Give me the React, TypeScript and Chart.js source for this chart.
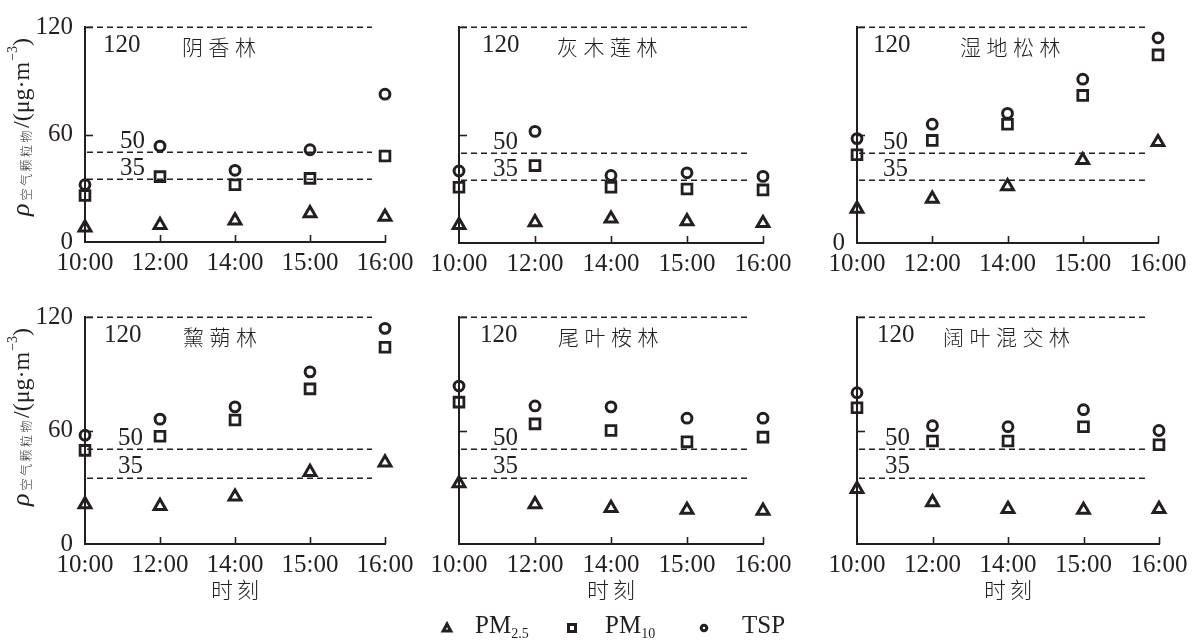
import React, { useEffect, useRef } from 'react';
import { Chart, registerables } from 'chart.js';

Chart.register(...registerables);

// ---------- data ----------
const times = ['10:00', '12:00', '14:00', '15:00', '16:00'];
const forestNames = ['阴香林', '灰木莲林', '湿地松林', '黧蒴林', '尾叶桉林', '阔叶混交林'];
const seriesNames = ['PM2.5', 'PM10', 'TSP'];
const yTickValues = [0, 60, 120];
const refLines = [120, 50, 35];
const xTitle = '时刻';

// 阴香林
const pm25_yinxiang = [8, 9.5, 12, 16, 14];
const pm10_yinxiang = [26, 36.5, 32, 35.5, 48];
const tsp_yinxiang = [32, 53.5, 40, 51.5, 82.5];
// 灰木莲林
const pm25_huimulian = [10, 11.5, 13.5, 12, 11];
const pm10_huimulian = [31, 43, 31, 30, 29.5];
const tsp_huimulian = [40, 62, 37.5, 39, 37];
// 湿地松林
const pm25_shidisong = [19, 24.5, 31.5, 46, 56];
const pm10_shidisong = [49, 57, 66, 82, 104.5];
const tsp_shidisong = [58, 66, 72, 91, 114];
// 黧蒴林
const pm25_lishuo = [21, 20, 25, 38, 43];
const pm10_lishuo = [49.5, 57, 65.5, 82, 104];
const tsp_lishuo = [57.5, 66, 72.5, 91, 114];
// 尾叶桉林
const pm25_weiyean = [32, 21, 19, 18, 17.5];
const pm10_weiyean = [75, 63.5, 60, 54, 56.5];
const tsp_weiyean = [83.5, 73, 72.5, 66.5, 66.5];
// 阔叶混交林
const pm25_kuoye = [29, 22, 18.5, 18, 18.5];
const pm10_kuoye = [72, 54.5, 54.5, 62, 52.5];
const tsp_kuoye = [80, 62.5, 62, 71, 60];

const panelSeries = [
  [pm25_yinxiang, pm10_yinxiang, tsp_yinxiang],
  [pm25_huimulian, pm10_huimulian, tsp_huimulian],
  [pm25_shidisong, pm10_shidisong, tsp_shidisong],
  [pm25_lishuo, pm10_lishuo, tsp_lishuo],
  [pm25_weiyean, pm10_weiyean, tsp_weiyean],
  [pm25_kuoye, pm10_kuoye, tsp_kuoye],
];

// ---------- layout / style ----------
const INK = '#231f20';
const SERIF = '"Liberation Serif", "Times New Roman", serif';
const CJK = '"Noto Sans CJK SC", "Noto Sans CJK JP", sans-serif';

type Layout = {
  left: number; top: number; w: number; h: number;
  pad: { left: number; right: number; top: number; bottom: number };
  yLabels: number[]; yTitle: boolean; xTitle: boolean; legend: boolean;
  off120: number; offTitle: number; offRef: number;
};

const layouts: Layout[] = [
  { left: 0, top: 0, w: 420, h: 290, pad: { left: 85, right: 35, top: 18, bottom: 48 }, yLabels: [0, 60, 120], yTitle: true, xTitle: false, legend: false, off120: 18, offTitle: 97, offRef: 35 },
  { left: 420, top: 0, w: 380, h: 290, pad: { left: 39, right: 37, top: 18, bottom: 47 }, yLabels: [], yTitle: false, xTitle: false, legend: false, off120: 23, offTitle: 98, offRef: 34 },
  { left: 800, top: 0, w: 400, h: 290, pad: { left: 57, right: 42, top: 18, bottom: 47 }, yLabels: [0], yTitle: false, xTitle: false, legend: false, off120: 16, offTitle: 103, offRef: 26 },
  { left: 0, top: 290, w: 420, h: 351, pad: { left: 85, right: 35, top: 27, bottom: 97 }, yLabels: [0, 60, 120], yTitle: true, xTitle: true, legend: false, off120: 19, offTitle: 98, offRef: 33 },
  { left: 420, top: 290, w: 380, h: 351, pad: { left: 39, right: 37, top: 27, bottom: 97 }, yLabels: [], yTitle: false, xTitle: true, legend: true, off120: 21, offTitle: 99, offRef: 34 },
  { left: 800, top: 290, w: 400, h: 351, pad: { left: 57, right: 41, top: 27, bottom: 97 }, yLabels: [], yTitle: false, xTitle: true, legend: false, off120: 20, offTitle: 86, offRef: 28 },
];

const pointStyles = ['triangle', 'rect', 'circle'] as const;
const pointRadii = [6.8, 6.9, 4.9];
const pointBorders = [3, 2.8, 3];

function drawSpaced(ctx: CanvasRenderingContext2D, text: string, x: number, y: number, advance: number) {
  let cx = x;
  for (const ch of Array.from(text)) {
    ctx.fillText(ch, cx, y);
    cx += advance;
  }
}

function drawYTitle(ctx: CanvasRenderingContext2D, x: number, yBottom: number) {
  ctx.save();
  ctx.translate(x, yBottom);
  ctx.rotate(-Math.PI / 2);
  ctx.fillStyle = INK;
  ctx.textAlign = 'left';
  ctx.textBaseline = 'alphabetic';
  let cx = 0;
  ctx.font = `italic 26px ${SERIF}`;
  ctx.fillText('ρ', cx, 0);
  cx += ctx.measureText('ρ').width + 3;
  ctx.font = `300 12px ${CJK}`;
  for (const ch of Array.from('空气颗粒物')) {
    ctx.fillText(ch, cx, 2);
    cx += 14.5;
  }
  ctx.font = `24px ${SERIF}`;
  ctx.fillText('/(μg·m', cx, 0);
  cx += ctx.measureText('/(μg·m').width + 1;
  ctx.font = `14px ${SERIF}`;
  ctx.fillText('−3', cx, -12);
  cx += ctx.measureText('−3').width;
  ctx.font = `24px ${SERIF}`;
  ctx.fillText(')', cx, 0);
  ctx.restore();
}

function drawLegend(ctx: CanvasRenderingContext2D, layout: Layout) {
  const oy = 628 - layout.top;
  const ox = -layout.left;
  ctx.save();
  ctx.strokeStyle = INK;
  ctx.fillStyle = INK;
  ctx.lineWidth = 3;
  // triangle
  const tx = 447 + ox;
  ctx.beginPath();
  ctx.moveTo(tx, oy - 4);
  ctx.lineTo(tx + 3.8, oy + 3);
  ctx.lineTo(tx - 3.8, oy + 3);
  ctx.closePath();
  ctx.stroke();
  // square
  const sx = 572 + ox;
  ctx.strokeRect(sx - 3.5, oy - 3.5, 7, 7);
  // circle
  const cx = 704 + ox;
  ctx.beginPath();
  ctx.arc(cx, oy, 2.8, 0, Math.PI * 2);
  ctx.stroke();

  const base = 643 - layout.top;
  ctx.textAlign = 'left';
  ctx.textBaseline = 'alphabetic';
  const items: [number, string, string][] = [
    [475, 'PM', '2.5'],
    [605, 'PM', '10'],
    [742, 'TSP', ''],
  ];
  items.forEach(([x, main, sub]) => {
    ctx.font = `25px ${SERIF}`;
    ctx.fillText(main, x + ox, base - 10);
    const w = ctx.measureText(main).width;
    if (sub) {
      ctx.font = `14px ${SERIF}`;
      ctx.fillText(sub, x + ox + w, base - 5);
    }
  });
  ctx.restore();
}

function makePlugin(idx: number) {
  const L = layouts[idx];
  return {
    id: 'decor' + idx,
    beforeDatasetsDraw(chart: any) {
      const { ctx, chartArea: ca } = chart;
      const y = chart.scales.y;
      ctx.save();
      ctx.strokeStyle = INK;
      ctx.lineWidth = 1.5;
      ctx.setLineDash([6, 4]);
      refLines.forEach((v) => {
        const py = Math.round(y.getPixelForValue(v)) + 0.25;
        ctx.beginPath();
        ctx.moveTo(ca.left + 2, py);
        ctx.lineTo(ca.right - 13, py);
        ctx.stroke();
      });
      ctx.restore();
    },
    afterDraw(chart: any) {
      const { ctx, chartArea: ca } = chart;
      const x = chart.scales.x;
      const y = chart.scales.y;
      ctx.save();
      ctx.strokeStyle = INK;
      ctx.fillStyle = INK;
      ctx.lineWidth = 1.6;
      // inward x ticks
      for (let i = 1; i < times.length; i++) {
        const px = Math.round(x.getPixelForValue(i)) + 0.5;
        ctx.beginPath();
        ctx.moveTo(px, ca.bottom - 7);
        ctx.lineTo(px, ca.bottom);
        ctx.stroke();
      }
      // inward y ticks
      [60, 120].forEach((v) => {
        const py = Math.round(y.getPixelForValue(v)) + 0.5;
        ctx.beginPath();
        ctx.moveTo(ca.left, py);
        ctx.lineTo(ca.left + 8, py);
        ctx.stroke();
      });
      // reference labels
      ctx.textAlign = 'left';
      ctx.textBaseline = 'middle';
      ctx.font = `25px ${SERIF}`;
      const p120 = y.getPixelForValue(120);
      ctx.fillText('120', ca.left + L.off120, p120 + 18);
      ctx.fillText('50', ca.left + L.offRef, y.getPixelForValue(50) - 11);
      ctx.fillText('35', ca.left + L.offRef, y.getPixelForValue(35) - 11);
      // panel title
      ctx.font = `300 21px ${CJK}`;
      drawSpaced(ctx, forestNames[idx], ca.left + L.offTitle, p120 + 20, 26.5);
      // x title
      if (L.xTitle) {
        ctx.textAlign = 'center';
        const cxm = (ca.left + ca.right) / 2;
        ctx.font = `300 22px ${CJK}`;
        ctx.fillText(xTitle[0], cxm - 13, 590 - L.top);
        ctx.fillText(xTitle[1], cxm + 13, 590 - L.top);
      }
      ctx.restore();
      if (L.yTitle) drawYTitle(ctx, 29, 216);
      if (L.legend) drawLegend(ctx, L);
    },
  };
}

function buildConfig(idx: number): any {
  const L = layouts[idx];
  const series = panelSeries[idx];
  return {
    type: 'line',
    data: {
      labels: times,
      datasets: series.map((d, i) => ({
        label: seriesNames[i],
        data: d,
        showLine: false,
        pointStyle: pointStyles[i],
        pointRadius: pointRadii[i],
        pointHoverRadius: pointRadii[i],
        pointBorderWidth: pointBorders[i],
        pointBorderColor: INK,
        pointBackgroundColor: 'rgba(0,0,0,0)',
        borderColor: INK,
        clip: false,
      })),
    },
    options: {
      responsive: false,
      animation: false,
      devicePixelRatio: 1,
      layout: { padding: { left: 0, right: L.pad.right, top: L.pad.top, bottom: 0 } },
      plugins: { legend: { display: false }, tooltip: { enabled: false } },
      scales: {
        x: {
          type: 'category',
          offset: false,
          afterFit: (s: any) => { s.height = L.pad.bottom; },
          grid: { display: false, drawTicks: false },
          border: { display: true, color: INK, width: 2 },
          ticks: {
            color: INK,
            font: { family: SERIF, size: 25 },
            padding: 6,
            maxRotation: 0,
            autoSkip: false,
          },
        },
        y: {
          min: 0,
          max: 120,
          afterFit: (s: any) => { s.width = L.pad.left; },
          afterBuildTicks: (s: any) => { s.ticks = yTickValues.map((v) => ({ value: v })); },
          grid: { display: false, drawTicks: false },
          border: { display: true, color: INK, width: 2 },
          ticks: {
            color: INK,
            font: { family: SERIF, size: 25 },
            padding: 12,
            callback: (v: any) => (L.yLabels.includes(Number(v)) ? String(v) : ''),
          },
        },
      },
    },
    plugins: [makePlugin(idx)],
  };
}

function Panel({ idx }: { idx: number }) {
  const ref = useRef<HTMLCanvasElement>(null);
  const L = layouts[idx];
  useEffect(() => {
    if (!ref.current) return;
    const chart = new Chart(ref.current, buildConfig(idx));
    return () => chart.destroy();
  }, [idx]);
  return (
    <canvas
      ref={ref}
      width={L.w}
      height={L.h}
      style={{ position: 'absolute', left: L.left, top: L.top, width: L.w, height: L.h }}
    />
  );
}

export default function App() {
  return (
    <div style={{ position: 'absolute', left: 0, top: 0, width: 1200, height: 641, background: '#fff', overflow: 'hidden' }}>
      {layouts.map((_, i) => (
        <Panel key={i} idx={i} />
      ))}
    </div>
  );
}
